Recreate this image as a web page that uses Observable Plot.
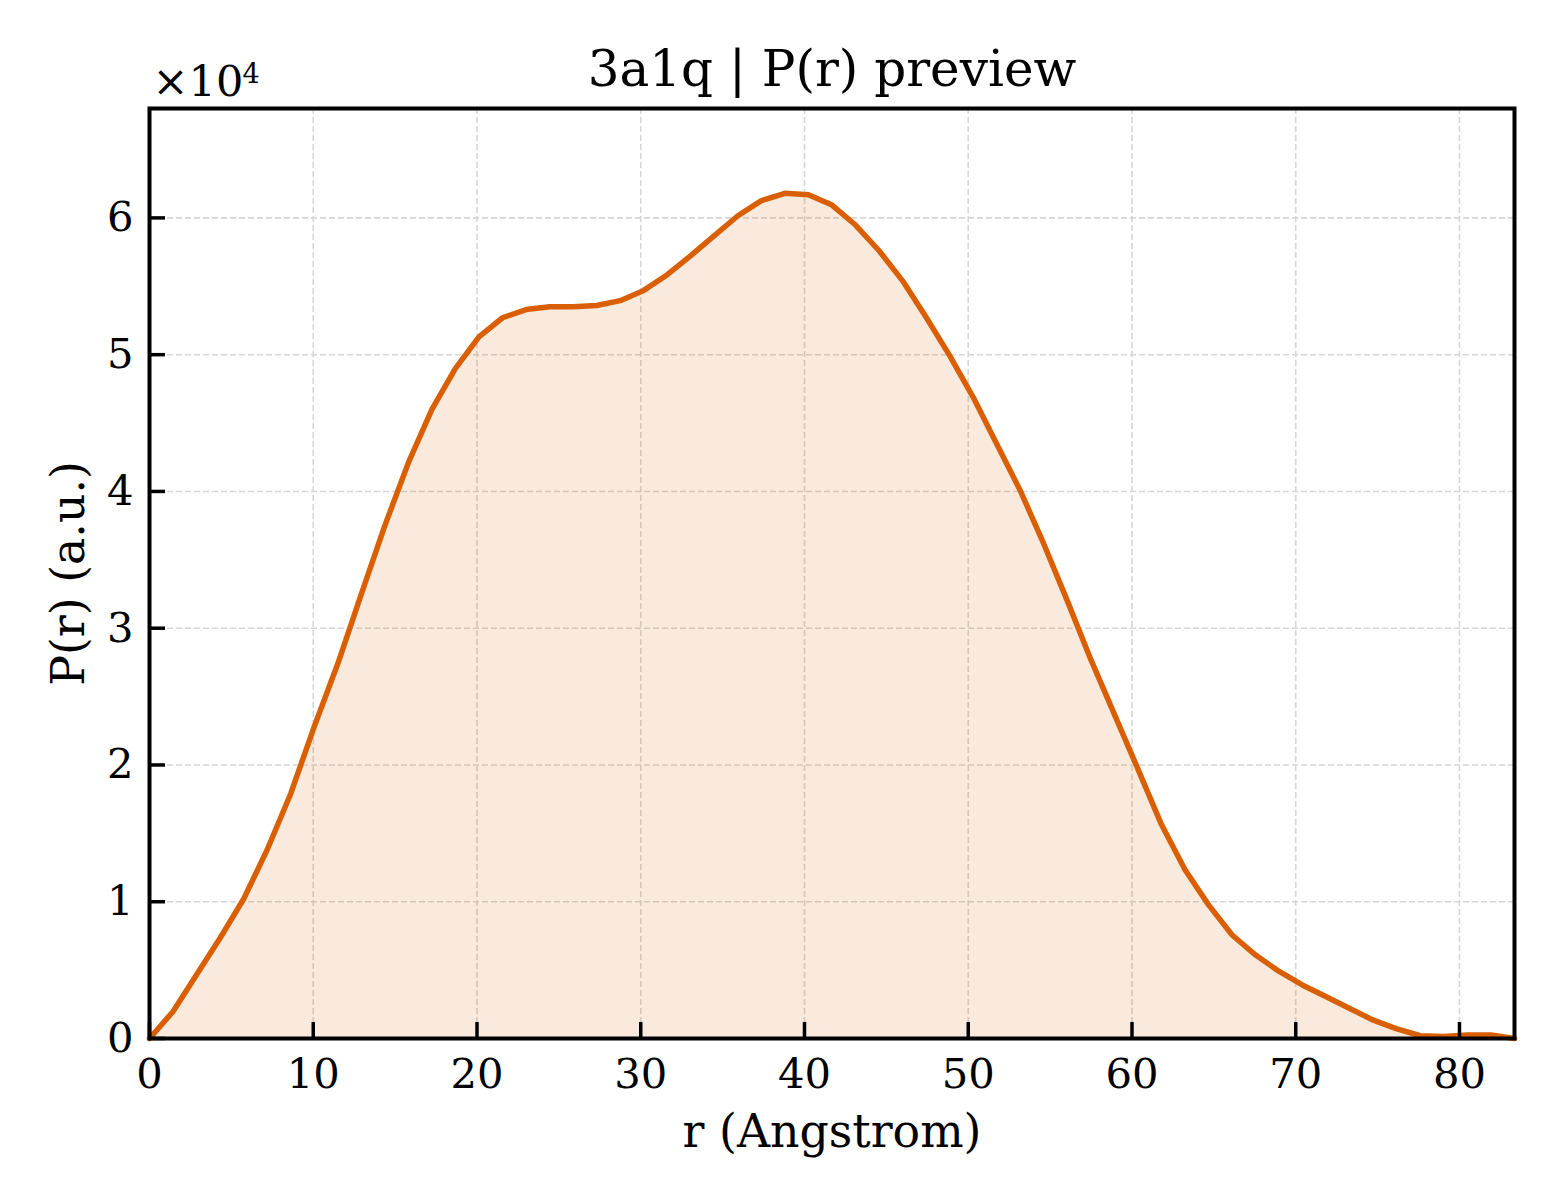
<!DOCTYPE html>
<html>
<head>
<meta charset="utf-8">
<script src="https://cdn.jsdelivr.net/npm/d3@7"></script>
<script src="https://cdn.jsdelivr.net/npm/@observablehq/plot@0.6"></script>
<style>
  html, body { margin: 0; padding: 0; background: #ffffff; }
  #chart { width: 1560px; height: 1200px; }
</style>
</head>
<body>
<div id="chart"></div>
<script>
const title = "3a1q | P(r) preview";
const xLabel = "r (Angstrom)";
const yLabel = "P(r) (a.u.)";
const offsetBase = "×10";
const offsetExp = "4";

const r = [0, 1.437, 2.874, 4.312, 5.749, 7.186, 8.623, 10.061, 11.498, 12.935,
  14.372, 15.810, 17.247, 18.684, 20.121, 21.559, 22.996, 24.433, 25.870, 27.308,
  28.745, 30.182, 31.619, 33.057, 34.494, 35.931, 37.368, 38.806, 40.243, 41.680,
  43.117, 44.555, 45.992, 47.429, 48.866, 50.303, 51.741, 53.178, 54.615, 56.052,
  57.490, 58.927, 60.364, 61.801, 63.239, 64.676, 66.113, 67.550, 68.988, 70.425,
  71.862, 73.299, 74.737, 76.174, 77.611, 79.048, 80.486, 81.923, 83.360];

const pr = [0, 1970, 4660, 7350, 10200, 13800, 17900, 22800, 27400, 32500,
  37500, 42100, 46000, 49000, 51300, 52700, 53300, 53500, 53500, 53600,
  53950, 54700, 55850, 57240, 58700, 60160, 61260, 61800, 61700, 60940,
  59480, 57600, 55400, 52730, 49930, 46880, 43470, 40060, 36160, 32000,
  27700, 23700, 19700, 15640, 12340, 9770, 7570, 6100, 4900, 3900,
  3050, 2200, 1340, 700, 200, 150, 250, 250, 0];

const xTicks = [0, 10, 20, 30, 40, 50, 60, 70, 80];
const yTicks = [0, 10000, 20000, 30000, 40000, 50000, 60000];
const xDomain = [0, 83.36];
const yDomain = [0, 68000];

const data = r.map((v, i) => ({r: v, p: pr[i]}));

const lineColor = "#d95f02";
const gridColor = "#d6d6d6";
const font = "'DejaVu Serif', 'Liberation Serif', serif";

const chart = Plot.plot({
  width: 1560,
  height: 1200,
  marginLeft: 149,
  marginRight: 46,
  marginTop: 108,
  marginBottom: 162,
  style: {fontFamily: font, fontSize: "41.7px", color: "#000", background: "#fff"},
  x: {domain: xDomain},
  y: {domain: yDomain},
  marks: [
    Plot.gridX(xTicks.filter(d => d > 0), {stroke: gridColor, strokeOpacity: 1, strokeWidth: 1.6, strokeDasharray: "6,3"}),
    Plot.gridY(yTicks.filter(d => d > 0), {stroke: gridColor, strokeOpacity: 1, strokeWidth: 1.6, strokeDasharray: "6,3"}),
    Plot.areaY(data, {x: "r", y: "p", fill: lineColor, fillOpacity: 0.13}),
    Plot.lineY(data, {x: "r", y: "p", stroke: lineColor, strokeWidth: 5.5, strokeLinejoin: "round"}),
    Plot.frame({stroke: "#000", strokeWidth: 4}),
    Plot.axisX(xTicks, {anchor: "bottom", tickSize: -16, tickPadding: 36, strokeWidth: 3.5, label: null, tickFormat: d => String(d)}),
    Plot.axisY(yTicks, {anchor: "left", tickSize: -16, tickPadding: 32, strokeWidth: 3.5, label: null, tickFormat: d => String(d / 10000)}),
    Plot.text([title], {frameAnchor: "top", textAnchor: "middle", lineAnchor: "middle", dy: -39, fontSize: 50, fill: "#000"}),
    Plot.text([xLabel], {frameAnchor: "bottom", textAnchor: "middle", lineAnchor: "middle", dy: 94, fontSize: 45.8, fill: "#000"}),
    Plot.text([yLabel], {frameAnchor: "left", textAnchor: "middle", lineAnchor: "middle", dx: -80, rotate: -90, fontSize: 45.8, fill: "#000"}),
    Plot.text([offsetBase], {frameAnchor: "top-left", textAnchor: "start", lineAnchor: "middle", dx: 3, dy: -26, fontSize: 43, fill: "#000"}),
    Plot.text([offsetExp], {frameAnchor: "top-left", textAnchor: "start", lineAnchor: "middle", dx: 93, dy: -34, fontSize: 27, fill: "#000"})
  ]
});

document.getElementById("chart").appendChild(chart);
</script>
</body>
</html>
